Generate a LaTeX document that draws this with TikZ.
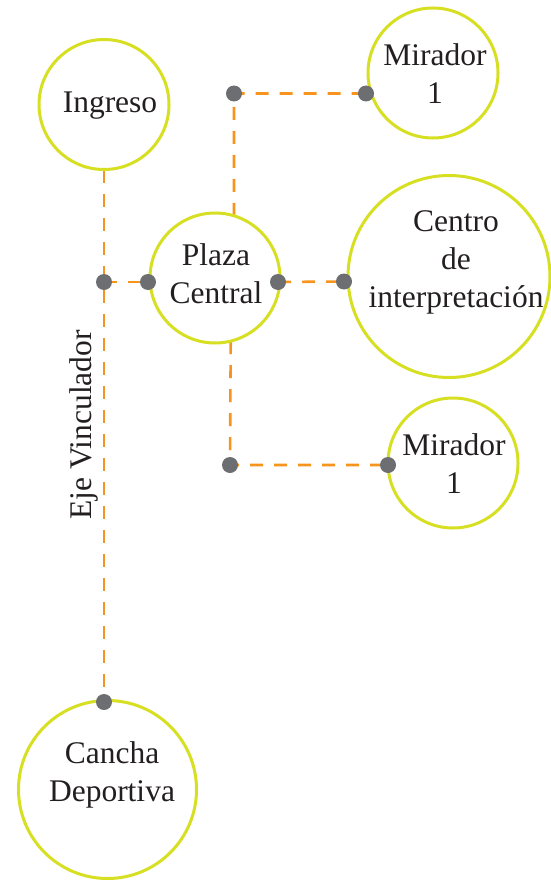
\documentclass[tikz,border=0pt]{standalone}
\usepackage{fontspec}
\setmainfont{Liberation Serif}
\usetikzlibrary{backgrounds}
\definecolor{ringgreen}{HTML}{D7DF23}
\definecolor{dashorange}{HTML}{F7941D}
\definecolor{dotgray}{HTML}{6D6E71}
\definecolor{txt}{HTML}{231F20}
\begin{document}
\begin{tikzpicture}[x=1pt,y=-1pt,
  ring/.style={circle,draw=ringgreen,line width=3pt,inner sep=0pt,outer sep=0pt},
  dotnode/.style={circle,fill=dotgray,inner sep=0pt,outer sep=0pt,minimum size=16pt},
  link/.style={draw=dashorange,line width=2.6pt,dash pattern=on 13pt off 11pt},
  lbl/.style={text=txt,font=\fontsize{31.5}{38}\selectfont,align=center,inner sep=0pt}]
\useasboundingbox (0,0) rectangle (551,880);
% rings
\node[ring,minimum size=130pt] (ingreso) at (104,104.5) {};
\node[ring,minimum size=130pt] (plaza) at (215,278) {};
\node[ring,minimum size=130pt] (mirA) at (433,73) {};
\node[ring,minimum size=202pt] (centro) at (449,276.5) {};
\node[ring,minimum size=130pt] (mirB) at (453,463) {};
\node[ring,minimum size=178pt] (cancha) at (107.5,789.5) {};
% labels
\node[lbl] (tIngreso) at (110,106) {Ingreso};
\node[lbl] (tPlaza) at (216,273.5) {Plaza\\Central};
\node[lbl] (tMirA) at (435,74) {Mirador\\1};
\node[lbl] (tCentro) at (456,262.5) {Centro\\de\\interpretación};
\node[lbl] (tMirB) at (454,463.5) {Mirador\\1};
\node[lbl] (tCancha) at (112,775) {Cancha\\Deportiva};
\node[lbl,rotate=90] (tEje) at (84,425) {Eje Vinculador};
% dots
\node[dotnode] (dJ) at (104,282) {};
\node[dotnode] (dPL) at (148,282) {};
\node[dotnode] (dPR) at (278,282) {};
\node[dotnode] (dC) at (344,281.5) {};
\node[dotnode] (dT) at (234,93.5) {};
\node[dotnode] (dMA) at (366,93.5) {};
\node[dotnode] (dB) at (230,465) {};
\node[dotnode] (dMB) at (388,465) {};
\node[dotnode] (dK) at (104,702) {};
% connectors
\begin{pgfonlayer}{background}
\draw[link] (ingreso.south) -- (dK.center);
\draw[link] (dJ.center) -- (dPL.center);
\draw[link] (dPR.center) -- (dC.center);
\draw[link] (plaza.73) -- (dT.center) -- (dMA.center);
\draw[link] (plaza.-76.6) -- (dB.center) -- (dMB.center);
\end{pgfonlayer}
\end{tikzpicture}
\end{document}
